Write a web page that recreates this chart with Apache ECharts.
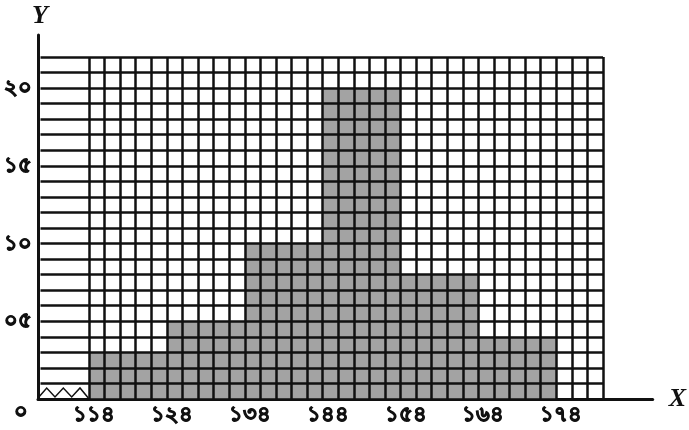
<!DOCTYPE html>
<html>
<head>
<meta charset="utf-8">
<script src="https://cdn.jsdelivr.net/npm/echarts@6/dist/echarts.min.js"></script>
<style>
  html, body { margin: 0; padding: 0; background: #fff; }
  #chart { width: 689px; height: 430px; }
</style>
</head>
<body>
<div id="chart"></div>
<script>
// class intervals (lower limits), class width and frequencies
const classStarts = [114, 124, 134, 144, 154, 164];
const classWidth = 10;
const frequencies = [3, 5, 10, 20, 8, 4];

// tick labels in Bengali numerals
const xTickValues = [114, 124, 134, 144, 154, 164, 174];
const xTickLabels = ['১১৪', '১২৪', '১৩৪', '১৪৪', '১৫৪', '১৬৪', '১৭৪'];
const yTickValues = [5, 10, 15, 20];
const yTickLabels = ['০৫', '১০', '১৫', '২০'];

const lineColor = '#111';
const barColor = '#a3a3a3';
const labelFont = "'Noto Sans', 'DejaVu Sans', sans-serif";

const chart = echarts.init(document.getElementById('chart'));

const histData = classStarts.map((s, i) => [s, s + classWidth, frequencies[i]]);

const gridLine = { show: true, lineStyle: { color: lineColor, width: 2.5 } };

// heavier strokes for the tick labels
const labelStyle = {
  fontSize: 21,
  fontWeight: 'bold',
  color: '#111',
  fontFamily: labelFont,
  textBorderColor: '#111',
  textBorderWidth: 1
};

const option = {
  animation: false,
  backgroundColor: '#fff',
  grid: [
    { left: 38, top: 57, width: 51, bottom: 31 },     // broken part near origin
    { left: 89, top: 57, right: 86, bottom: 31 },     // main grid
    { left: 38, top: 35, right: 36, bottom: 31 }      // axis lines
  ],
  xAxis: [
    { gridIndex: 0, type: 'value', min: 0, max: 1, show: false },
    {
      gridIndex: 1, type: 'value', min: 114, max: 180, interval: 2, z: 5,
      axisLine: { show: false }, axisTick: { show: false },
      splitLine: gridLine,
      axisLabel: Object.assign({
        margin: 6,
        padding: [0, 0, 0, 10],
        showMinLabel: true,
        formatter: v => {
          const i = xTickValues.indexOf(v);
          return i >= 0 ? xTickLabels[i] : '';
        }
      }, labelStyle)
    },
    {
      gridIndex: 2, type: 'value', min: 0, max: 1,
      axisLine: { show: true, lineStyle: { color: lineColor, width: 3 } },
      axisTick: { show: false }, axisLabel: { show: false }, splitLine: { show: false },
      name: 'X', nameLocation: 'end', nameGap: 16,
      nameTextStyle: { fontFamily: "'Liberation Serif', serif", fontStyle: 'italic', fontWeight: 'bold', fontSize: 26, color: '#111', verticalAlign: 'middle' }
    }
  ],
  yAxis: [
    {
      gridIndex: 0, type: 'value', min: 0, max: 22, interval: 1, z: 5,
      axisLine: { show: false }, axisTick: { show: false },
      splitLine: gridLine,
      axisLabel: Object.assign({
        margin: 9,
        formatter: v => {
          const i = yTickValues.indexOf(v);
          return i >= 0 ? yTickLabels[i] : '';
        }
      }, labelStyle)
    },
    {
      gridIndex: 1, type: 'value', min: 0, max: 22, interval: 1, z: 5,
      axisLine: { show: false }, axisTick: { show: false }, axisLabel: { show: false },
      splitLine: gridLine
    },
    {
      gridIndex: 2, type: 'value', min: 0, max: 1,
      axisLine: { show: true, lineStyle: { color: lineColor, width: 3 } },
      axisTick: { show: false }, axisLabel: { show: false }, splitLine: { show: false },
      name: 'Y', nameLocation: 'end', nameGap: 6,
      nameTextStyle: { fontFamily: "'Liberation Serif', serif", fontStyle: 'italic', fontWeight: 'bold', fontSize: 26, color: '#111', align: 'center', padding: [0, 0, 0, 4] }
    }
  ],
  graphic: [
    {
      type: 'text', left: 13, top: 401,
      style: { text: '০', fill: '#111', stroke: '#111', lineWidth: 1, font: "bold 21px 'Noto Sans', 'DejaVu Sans', sans-serif" }
    },
    {
      // zigzag break mark on the x axis
      type: 'polyline', z: 10,
      shape: { points: [[38, 398], [46.7, 388], [55, 397], [63.3, 388], [71.7, 397], [80, 388], [88.3, 398]] },
      style: { stroke: lineColor, lineWidth: 1.5, fill: null }
    }
  ],
  series: [
    {
      type: 'custom',
      xAxisIndex: 1,
      yAxisIndex: 1,
      z: 1,
      data: histData,
      renderItem: (params, api) => {
        const p0 = api.coord([api.value(0), api.value(2)]);
        const p1 = api.coord([api.value(1), 0]);
        return {
          type: 'rect',
          shape: { x: p0[0], y: p0[1], width: p1[0] - p0[0], height: p1[1] - p0[1] },
          style: { fill: barColor }
        };
      }
    }
  ]
};

chart.setOption(option);
</script>
</body>
</html>
